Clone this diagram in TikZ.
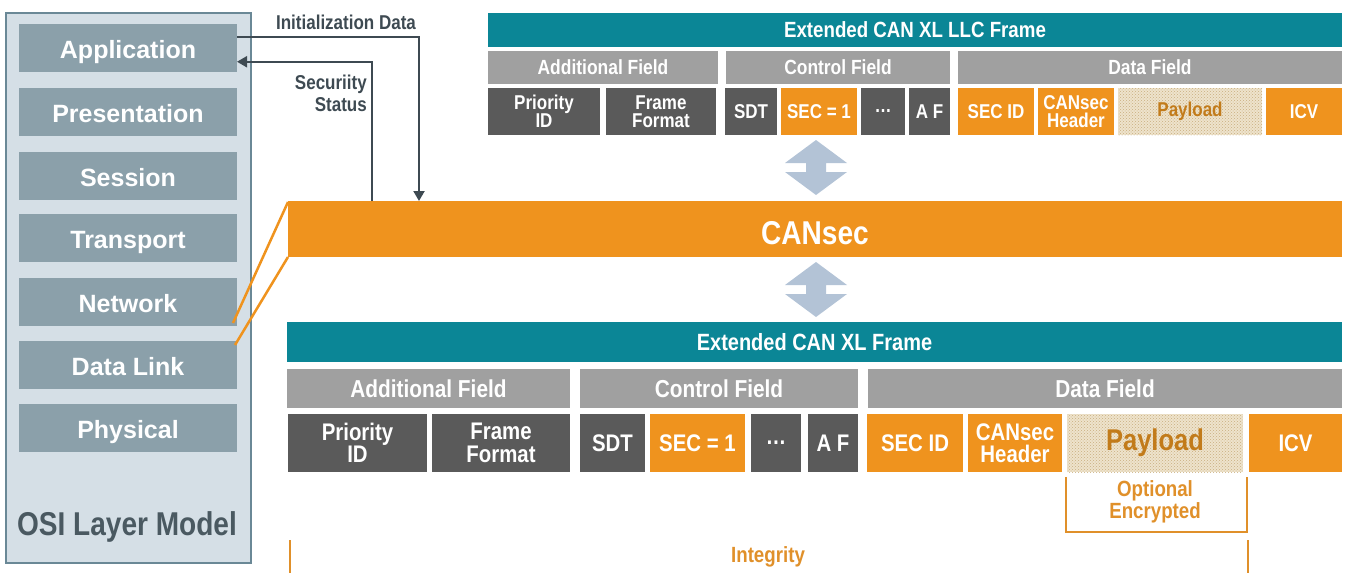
\documentclass[tikz,border=0pt]{standalone}
\usepackage{fontspec}
\setmainfont{Liberation Sans}
\newfontfamily\cond[FakeStretch=0.85]{Liberation Sans}
\newfontfamily\arialb{Liberation Sans}
\usetikzlibrary{arrows.meta,patterns}
\definecolor{cteal}{HTML}{0B8696}
\definecolor{corange}{HTML}{EF931E}
\definecolor{cgray}{HTML}{A0A0A0}
\definecolor{cdark}{HTML}{5A5A5A}
\definecolor{cosibg}{HTML}{D5DFE6}
\definecolor{cosibd}{HTML}{6A8896}
\definecolor{clayer}{HTML}{8BA0AA}
\definecolor{cosit}{HTML}{4A5961}
\definecolor{carrow}{HTML}{3E4A52}
\definecolor{cdbl}{HTML}{B3C3D6}
\definecolor{cpaybg}{HTML}{EEE3CC}
\definecolor{cpaydot}{HTML}{C9AE7E}
\definecolor{cpaytext}{HTML}{C27B1A}
\definecolor{cobr}{HTML}{E0902A}
\newcommand\fs[2]{\fontsize{#1}{#2}\selectfont}
\newcommand\cell[7]{\node[#1, minimum width={(#5-#3)*1pt}, minimum height={(#6-#4)*1pt}, anchor=north west] (#2) at (#3,#4) {#7};}
\newcommand\dblarrow[2]{\fill[cdbl] (#1,#2) -- ++(31,23) -- ++(-21,0) -- ++(0,9) -- ++(21,0) -- ++(-31,23) -- ++(-31,-23) -- ++(21,0) -- ++(0,-9) -- ++(-21,0) -- cycle;}
\begin{document}
\begin{tikzpicture}[x=1pt,y=-1pt,
  base/.style={inner sep=0pt, outer sep=0pt, align=center, text=white},
  tsz/.style={font={\cond\bfseries\fs{20}{18.5}}},
  bsz/.style={font={\cond\bfseries\fs{24}{22.5}}},
  tealbox/.style={base, fill=cteal},
  graybox/.style={base, fill=cgray},
  darkbox/.style={base, fill=cdark},
  orngbox/.style={base, fill=corange},
  paybox/.style={base, fill=cpaybg, postaction={pattern=crosshatch dots, pattern color=cpaydot}, text=cpaytext},
  layer/.style={inner sep=0pt, outer sep=0pt, fill=clayer, text=white, font={\arialb\bfseries\fs{25}{25}}, text height=21pt, text depth=0pt, minimum width=218pt, minimum height=47.5pt, anchor=north west},
  arr/.style={draw=carrow, line width=2pt, -{Triangle[width=11pt,length=10pt]}},
  oline/.style={draw=corange, line width=2.5pt},
  obr/.style={draw=cobr, line width=2.5pt},
  lbl/.style={inner sep=0pt, font={\cond\bfseries\fs{20}{22}}, text=carrow},
  olbl/.style={inner sep=0pt, align=center, font={\cond\bfseries\fs{22}{20.5}}, text=cobr}
]
\useasboundingbox (0,0) rectangle (1346,573);

% OSI layer model
\node[draw=cosibd, line width=1.5pt, fill=cosibg, minimum width=245pt, minimum height=550pt, anchor=north west, inner sep=0pt] (osi) at (5,12) {};
\node[layer] (app) at (19,24) {Application};
\node[layer] (pres) at (19,88) {Presentation};
\node[layer] (sess) at (19,152) {Session};
\node[layer] (trans) at (19,214) {Transport};
\node[layer] (netw) at (19,278) {Network};
\node[layer] (dlink) at (19,341) {Data Link};
\node[layer] (phys) at (19,404) {Physical};
\node[inner sep=0pt, font={\cond\bfseries\fs{33}{33}}, text=cosit] (osil) at (127,527) {OSI Layer Model};

% CANsec bar
\cell{orngbox}{bar}{288}{201}{1342}{257}{}
\node[inner sep=0pt, font={\cond\bfseries\fs{33}{33}}, text=white] (cansec) at (815,233) {CANsec};
\coordinate (n1) at (233,323);
\coordinate (d1) at (235,345);
\draw[oline] ([yshift=-1pt]bar.north west) -- (n1);
\draw[oline] (bar.south west) -- (d1);

% arrows to application
\coordinate (initx) at (419,0);
\coordinate (secx) at (372,0);
\draw[arr] ([yshift=11pt]app.east) -| (bar.north -| initx);
\draw[arr] (bar.north -| secx) |- ([yshift=-14pt]app.east);
\node[lbl] (initlbl) at (346,22) {Initialization Data};
\node[lbl, align=right, anchor=north east] (seclbl) at (367,75) {Securiity\\Status};

% top frame
\cell{tealbox, font={\cond\bfseries\fs{22}{22}}}{tframe}{488}{13}{1342}{47}{Extended CAN XL LLC Frame}
\cell{graybox,font={\cond\bfseries\fs{20.5}{20.5}}}{taf}{488}{51}{718}{84}{Additional Field}
\cell{graybox,font={\cond\bfseries\fs{20.5}{20.5}}}{tcf}{726}{51}{950}{84}{Control Field}
\cell{graybox,font={\cond\bfseries\fs{20.5}{20.5}}}{tdf}{958}{51}{1342}{84}{Data Field}
\cell{darkbox,tsz}{tprio}{488}{88}{600}{135}{Priority\\ID}
\cell{darkbox,tsz}{tff}{606}{88}{716}{135}{Frame\\Format}
\cell{darkbox,tsz}{tsdt}{725}{88}{777}{135}{SDT}
\cell{orngbox,tsz}{tsec}{781}{88}{857}{135}{SEC = 1}
\cell{darkbox,tsz}{tdots}{861}{88}{905}{135}{\dots}
\cell{darkbox,tsz}{taff}{909}{88}{950}{135}{A F}
\cell{orngbox,tsz}{tsecid}{958}{88}{1034}{135}{SEC ID}
\cell{orngbox,tsz}{thdr}{1038}{88}{1114}{135}{CANsec\\Header}
\cell{paybox,tsz}{tpay}{1118}{88}{1262}{135}{Payload}
\cell{orngbox,tsz}{ticv}{1266}{88}{1342}{135}{ICV}

% double arrows
\dblarrow{816}{140}
\dblarrow{816}{262}

% bottom frame
\cell{tealbox, font={\cond\bfseries\fs{23.5}{23.5}}}{bframe}{287}{322}{1342}{362}{Extended CAN XL Frame}
\cell{graybox, font={\cond\bfseries\fs{24.5}{24.5}}}{baf}{287}{369}{570}{408}{Additional Field}
\cell{graybox, font={\cond\bfseries\fs{24.5}{24.5}}}{bcf}{580}{369}{858}{408}{Control Field}
\cell{graybox, font={\cond\bfseries\fs{24.5}{24.5}}}{bdf}{868}{369}{1342}{408}{Data Field}
\cell{darkbox,bsz}{bprio}{288}{414}{427}{472}{Priority\\ID}
\cell{darkbox,bsz}{bff}{432}{414}{570}{472}{Frame\\Format}
\cell{darkbox,bsz}{bsdt}{580}{414}{645}{472}{SDT}
\cell{orngbox,bsz}{bsec}{650}{414}{745}{472}{SEC = 1}
\cell{darkbox,bsz}{bdots}{751}{414}{801}{472}{\dots}
\cell{darkbox,bsz}{baff}{808}{414}{858}{472}{A F}
\cell{orngbox,bsz}{bsecid}{867}{414}{963}{472}{SEC ID}
\cell{orngbox,bsz}{bhdr}{968}{414}{1062}{472}{CANsec\\Header}
\cell{paybox, font={\cond\bfseries\fs{30}{30}}}{bpay}{1067}{414}{1243}{472}{Payload}
\cell{orngbox,bsz}{bicv}{1249}{414}{1342}{472}{ICV}

% optional encrypted bracket
\draw[obr] (1066,477) |- (1247,532) -- (1247,477);
\node[olbl] (optenc) at (1155,502) {Optional\\Encrypted};

% integrity
\draw[obr] (290,540) -- (290,573);
\draw[obr] (1248,540) -- (1248,573);
\node[olbl] (integ) at (768,557) {Integrity};
\end{tikzpicture}
\end{document}
